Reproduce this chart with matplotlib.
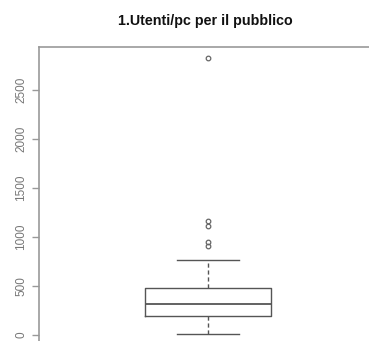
import matplotlib
matplotlib.use("Agg")
import matplotlib.pyplot as plt

title = "1.Utenti/pc per il pubblico"
yticks = [0, 500, 1000, 1500, 2000, 2500]
whisker_low = 10
q1 = 197
median = 313
q3 = 483
whisker_high = 762
outliers = [911, 952, 1112, 1166, 2823]

W, H = 369, 341
fig = plt.figure(figsize=(W / 100, H / 100), dpi=100)
plt.rcParams['font.family'] = ['Liberation Sans', 'DejaVu Sans']

# axes: left spine at x=39, top at y=47; extends off right/bottom like the cropped original
left, right, top, bottom = 39, 377, 47, 345
ax = fig.add_axes([left / W, 1 - bottom / H, (right - left) / W, (bottom - top) / H])

ylim = (-103, 2939)
ax.set_ylim(*ylim)
ax.set_xlim(0, 1)

stats = [dict(med=median, q1=q1, q3=q3, whislo=whisker_low, whishi=whisker_high,
              fliers=outliers, label="")]
box_col = "#555555"
ax.bxp(stats, positions=[0.5], widths=[126.7 / 338], capwidths=[62.6 / 338],
       boxprops=dict(color=box_col, linewidth=1.0),
       medianprops=dict(color=box_col, linewidth=1.3),
       whiskerprops=dict(color=box_col, linewidth=1.0, linestyle=(0, (3, 2))),
       capprops=dict(color=box_col, linewidth=1.0),
       flierprops=dict(marker="o", markersize=3.3, markerfacecolor="none",
                       markeredgecolor="#666666", markeredgewidth=0.9),
       manage_ticks=False)

spine_col = "#999999"
for s in ["right", "bottom"]:
    ax.spines[s].set_visible(False)
for s in ["left", "top"]:
    ax.spines[s].set_color(spine_col)
    ax.spines[s].set_linewidth(1.2)

ax.set_xticks([])
ax.set_yticks(yticks)
ax.set_yticklabels([str(v) for v in yticks], rotation=90, va="center",
                   fontsize=8.5, color="#777777")
ax.tick_params(axis="y", length=5, width=1, color=spine_col, pad=3.5)

fig.text(205 / W, 1 - 21 / H, title, ha="center", va="center",
         fontsize=10.3, fontweight="bold", color="#111111")

fig.savefig("out.png", dpi=100)
